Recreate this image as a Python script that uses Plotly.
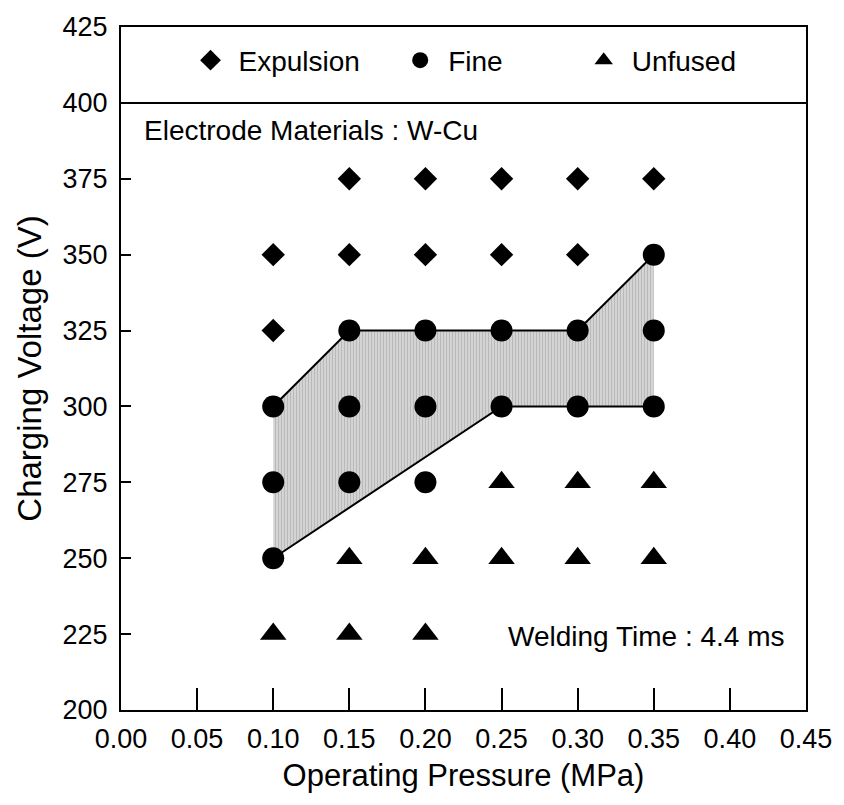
import plotly.graph_objects as go

# Data
exp_x = [0.10, 0.10, 0.15, 0.15, 0.20, 0.20, 0.25, 0.25, 0.30, 0.30, 0.35]
exp_y = [350, 325, 375, 350, 375, 350, 375, 350, 375, 350, 375]
fine_x = [0.10, 0.10, 0.10, 0.15, 0.15, 0.15, 0.20, 0.20, 0.20, 0.25, 0.25, 0.30, 0.30, 0.35, 0.35, 0.35]
fine_y = [300, 275, 250, 325, 300, 275, 325, 300, 275, 325, 300, 325, 300, 350, 325, 300]
unf_x = [0.10, 0.15, 0.15, 0.20, 0.20, 0.25, 0.25, 0.30, 0.30, 0.35, 0.35]
unf_y = [225, 250, 225, 250, 225, 275, 250, 275, 250, 275, 250]

# Fine-weld region boundaries
upper_x = [0.10, 0.15, 0.30, 0.35]
upper_y = [300, 325, 325, 350]
lower_x = [0.10, 0.25, 0.35]
lower_y = [250, 300, 300]

x_ticks = [0.00, 0.05, 0.10, 0.15, 0.20, 0.25, 0.30, 0.35, 0.40, 0.45]
y_ticks = [200, 225, 250, 275, 300, 325, 350, 375, 400, 425]

FONT = "Liberation Sans, Arial, sans-serif"

fig = go.Figure()

# shaded region polygon
poly_x = upper_x + lower_x[::-1]
poly_y = upper_y + lower_y[::-1]
fig.add_trace(go.Scatter(
    x=poly_x + [poly_x[0]], y=poly_y + [poly_y[0]], mode="none",
    fill="toself", fillcolor="#c8c8c8",
    fillpattern=dict(shape="|", fgcolor="#9a9a9a", bgcolor="#d4d4d4", size=3, solidity=0.3),
    showlegend=False, hoverinfo="skip"))
fig.add_trace(go.Scatter(x=upper_x, y=upper_y, mode="lines",
                         line=dict(color="black", width=2), showlegend=False))
fig.add_trace(go.Scatter(x=lower_x, y=lower_y, mode="lines",
                         line=dict(color="black", width=2), showlegend=False))

fig.add_trace(go.Scatter(x=exp_x, y=exp_y, mode="markers", name="Expulsion",
                         marker=dict(symbol="diamond", size=18, color="black"),
                         legend="legend"))
fig.add_trace(go.Scatter(x=fine_x, y=fine_y, mode="markers", name="Fine",
                         marker=dict(symbol="circle", size=22, color="black"),
                         legend="legend2"))
fig.add_trace(go.Scatter(x=unf_x, y=unf_y, mode="markers", name="Unfused",
                         marker=dict(symbol="triangle-up", size=23, color="black"),
                         legend="legend3"))

fig.add_shape(type="line", xref="paper", yref="y", x0=0, x1=1, y0=400, y1=400,
              line=dict(color="black", width=2))

fig.add_annotation(x=0.0306, y=390.8, xref="paper", yref="y", text="Electrode Materials : W-Cu",
                   showarrow=False, xanchor="left", yanchor="middle",
                   font=dict(family=FONT, size=28, color="black"))
fig.add_annotation(x=0.971, y=224.3, xref="paper", yref="y", text="Welding Time : 4.4 ms",
                   showarrow=False, xanchor="right", yanchor="middle",
                   font=dict(family=FONT, size=28, color="black"))

leg_common = dict(orientation="h", yanchor="middle", y=0.951, xanchor="left",
                  bgcolor="rgba(0,0,0,0)", font=dict(family=FONT, size=28, color="black"),
                  itemwidth=46)

fig.update_layout(
    width=844, height=805,
    margin=dict(l=121, r=36, t=20, b=95),
    paper_bgcolor="white", plot_bgcolor="white",
    font=dict(family=FONT, size=27, color="black"),
    legend=dict(x=0.0898, **leg_common),
    legend2=dict(x=0.3959, **leg_common),
    legend3=dict(x=0.6638, **leg_common),
    xaxis=dict(range=[0, 0.45], tickvals=x_ticks, ticktext=[f"{v:.2f}" for v in x_ticks],
               ticks="inside", ticklen=22, tickwidth=2, tickcolor="black",
               showline=True, linecolor="black", linewidth=2, mirror=True,
               showgrid=False, zeroline=False, ticklabelstandoff=4,
               tickfont=dict(family=FONT, size=27),
               title=dict(text="Operating Pressure (MPa)", font=dict(family=FONT, size=31),
                          standoff=11)),
    yaxis=dict(range=[200, 425], tickvals=y_ticks,
               ticks="inside", ticklen=10, tickwidth=2, tickcolor="black",
               showline=True, linecolor="black", linewidth=2, mirror=True,
               showgrid=False, zeroline=False, ticklabelstandoff=6,
               tickfont=dict(family=FONT, size=27),
               title=dict(text="Charging Voltage (V)", font=dict(family=FONT, size=33),
                          standoff=11)),
)

fig.write_html("out.html")
